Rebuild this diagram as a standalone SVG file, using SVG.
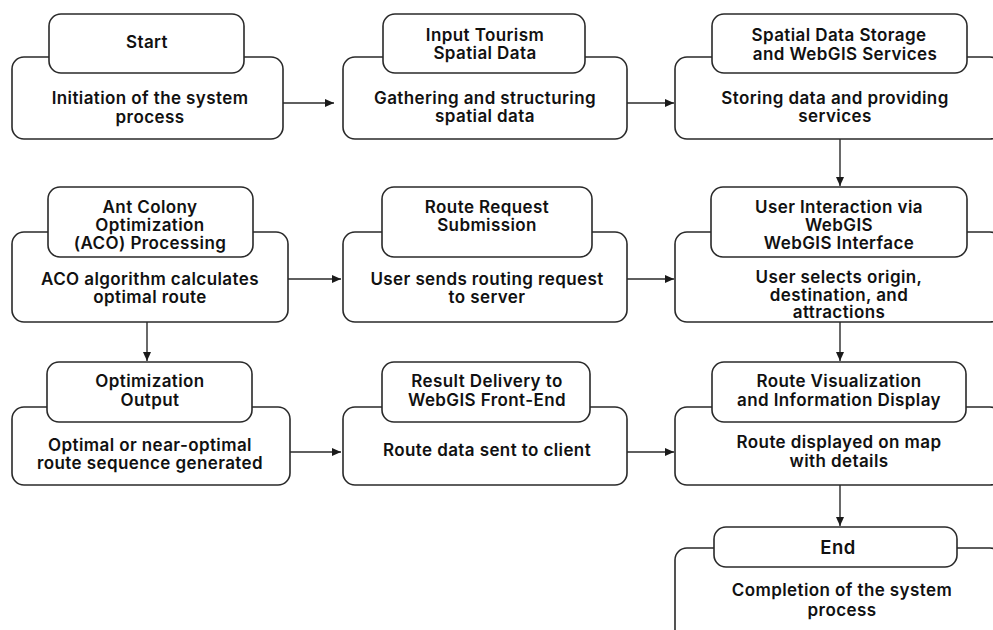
<svg xmlns="http://www.w3.org/2000/svg" width="993" height="630" viewBox="0 0 993 630">
<defs>
<style>
.main{fill:#fff;stroke:#2a2a2a;stroke-width:1.6}
.head{fill:#fff;stroke:#2a2a2a;stroke-width:1.6}
.t{font-family:Inter,"Liberation Sans",sans-serif;font-weight:600;font-size:17px;letter-spacing:0.4px;fill:#111;text-anchor:middle;dominant-baseline:central}
.c{stroke:#2a2a2a;stroke-width:1.4;fill:none;marker-end:url(#ah)}
</style>
<marker id="ah" markerWidth="10" markerHeight="8" refX="9" refY="4" orient="auto" markerUnits="userSpaceOnUse">
<path d="M0,0 L9,4 L0,8 Z" fill="#1a1a1a"/>
</marker>
</defs>
<rect width="993" height="630" fill="#fff"/>

<g id="connectors">
<path class="c" d="M283,103 H334"/>
<path class="c" d="M627,103 H674"/>
<path class="c" d="M840,139 V186"/>
<path class="c" d="M288,279 H341"/>
<path class="c" d="M627,279 H674"/>
<path class="c" d="M147,322 V361"/>
<path class="c" d="M840,322 V361"/>
<path class="c" d="M290,452 H341"/>
<path class="c" d="M627,452 H674"/>
<path class="c" d="M840,485 V526"/>
</g>

<g id="start">
<rect class="main" x="12" y="57" width="271" height="82" rx="12"/>
<rect class="head" x="49" y="14" width="195" height="59" rx="12"/>
<text class="t" x="147" y="42">Start</text>
<text class="t" x="150" y="98">Initiation of the system</text>
<text class="t" x="150" y="117">process</text>
</g>

<g id="input">
<rect class="main" x="343" y="57" width="284" height="82" rx="12"/>
<rect class="head" x="383" y="14" width="202" height="59" rx="12"/>
<text class="t" x="485" y="35">Input Tourism</text>
<text class="t" x="485" y="53">Spatial Data</text>
<text class="t" x="485" y="98">Gathering and structuring</text>
<text class="t" x="485" y="116">spatial data</text>
</g>

<g id="storage">
<rect class="main" x="675" y="57" width="327" height="82" rx="12"/>
<rect class="head" x="712" y="14" width="255" height="59" rx="12"/>
<text class="t" x="839" y="35">Spatial Data Storage</text>
<text class="t" x="845" y="54">and WebGIS Services</text>
<text class="t" x="835" y="98">Storing data and providing</text>
<text class="t" x="835" y="116">services</text>
</g>

<g id="aco">
<rect class="main" x="12" y="232" width="276" height="90" rx="12"/>
<rect class="head" x="48" y="187" width="205" height="70" rx="12"/>
<text class="t" x="150" y="207">Ant Colony</text>
<text class="t" x="150" y="225">Optimization</text>
<text class="t" x="150" y="243">(ACO) Processing</text>
<text class="t" x="150" y="279">ACO algorithm calculates</text>
<text class="t" x="150" y="297">optimal route</text>
</g>

<g id="request">
<rect class="main" x="343" y="232" width="284" height="90" rx="12"/>
<rect class="head" x="382" y="187" width="210" height="70" rx="12"/>
<text class="t" x="487" y="207">Route Request</text>
<text class="t" x="487" y="225">Submission</text>
<text class="t" x="487" y="279">User sends routing request</text>
<text class="t" x="487" y="297">to server</text>
</g>

<g id="interaction">
<rect class="main" x="675" y="232" width="327" height="90" rx="12"/>
<rect class="head" x="711" y="187" width="256" height="70" rx="12"/>
<text class="t" x="839" y="207">User Interaction via</text>
<text class="t" x="839" y="225">WebGIS</text>
<text class="t" x="839" y="243">WebGIS Interface</text>
<text class="t" x="839" y="277">User selects origin,</text>
<text class="t" x="839" y="295">destination, and</text>
<text class="t" x="839" y="312">attractions</text>
</g>

<g id="output">
<rect class="main" x="12" y="407" width="278" height="78" rx="12"/>
<rect class="head" x="47" y="362" width="205" height="60" rx="12"/>
<text class="t" x="150" y="381">Optimization</text>
<text class="t" x="150" y="400">Output</text>
<text class="t" x="150" y="445">Optimal or near-optimal</text>
<text class="t" x="150" y="463">route sequence generated</text>
</g>

<g id="delivery">
<rect class="main" x="343" y="407" width="284" height="78" rx="12"/>
<rect class="head" x="382" y="362" width="208" height="60" rx="12"/>
<text class="t" x="487" y="381">Result Delivery to</text>
<text class="t" x="487" y="400">WebGIS Front-End</text>
<text class="t" x="487" y="450">Route data sent to client</text>
</g>

<g id="visualization">
<rect class="main" x="675" y="407" width="327" height="78" rx="12"/>
<rect class="head" x="712" y="362" width="254" height="60" rx="12"/>
<text class="t" x="839" y="381">Route Visualization</text>
<text class="t" x="839" y="400">and Information Display</text>
<text class="t" x="839" y="442">Route displayed on map</text>
<text class="t" x="839" y="461">with details</text>
</g>

<g id="end">
<rect class="main" x="675" y="548" width="327" height="100" rx="12"/>
<rect class="head" x="714" y="527" width="243" height="40" rx="12"/>
<text class="t" x="838" y="547" style="font-size:18.5px">End</text>
<text class="t" x="842" y="590">Completion of the system</text>
<text class="t" x="842" y="610">process</text>
</g>
</svg>
